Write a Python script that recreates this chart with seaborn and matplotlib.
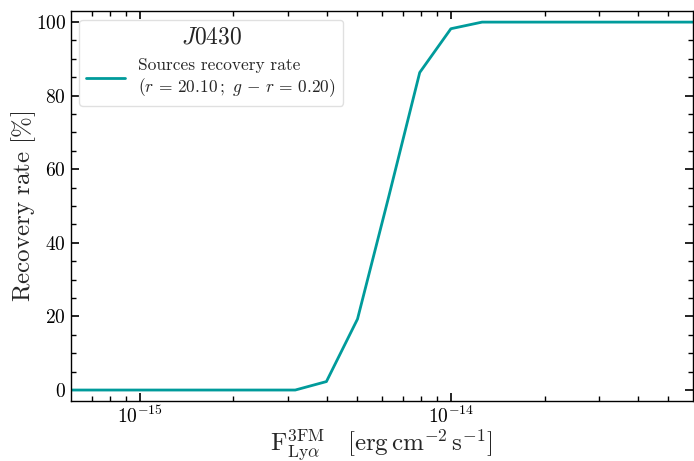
import matplotlib
matplotlib.use("Agg")
import matplotlib.pyplot as plt
import seaborn as sns
import pandas as pd
from matplotlib.ticker import MultipleLocator, FixedLocator, NullFormatter

# Data
flux = [5.01e-16, 6.31e-16, 7.94e-16, 1.00e-15, 1.26e-15, 1.58e-15, 2.00e-15,
        2.51e-15, 3.16e-15, 3.98e-15, 5.01e-15, 6.31e-15, 7.94e-15, 1.00e-14,
        1.26e-14, 1.58e-14, 2.00e-14, 2.51e-14, 3.16e-14, 3.98e-14, 5.01e-14,
        6.31e-14]
rate = [0, 0, 0, 0, 0, 0, 0, 0, 0, 2.3, 19.3, 52.5, 86.3, 98.2,
        100, 100, 100, 100, 100, 100, 100, 100]
xticks_major = [1e-15, 1e-14]
xticks_minor = [7e-16, 8e-16, 9e-16, 2e-15, 3e-15, 4e-15, 5e-15, 6e-15, 7e-15,
                8e-15, 9e-15, 2e-14, 3e-14, 4e-14, 5e-14]
series_label = "Sources recovery rate\n$(r\\,=\\,20.10\\,;\\ g\\,-\\,r\\,=\\,0.20)$"
legend_title = "$J0430$"

sns.set_style("ticks")
plt.rcParams["font.family"] = ["cmr10", "DejaVu Serif"]
plt.rcParams["mathtext.fontset"] = "cm"
plt.rcParams["axes.unicode_minus"] = False
plt.rcParams["axes.formatter.use_mathtext"] = True

df = pd.DataFrame({"flux": flux, "rate": rate})

fig = plt.figure(figsize=(6.94, 4.61), dpi=100)
ax = fig.add_axes([0.102, 0.130, 0.8965, 0.846])

sns.lineplot(data=df, x="flux", y="rate", ax=ax, color="#009B9B", lw=2.0,
             label=series_label)

ax.set_xscale("log")
ax.xaxis.set_major_locator(FixedLocator(xticks_major))
ax.xaxis.set_minor_locator(FixedLocator(xticks_minor))
ax.xaxis.set_minor_formatter(NullFormatter())
ax.set_xlim(6.0e-16, 6.0e-14)
ax.set_ylim(-3, 103)

ax.yaxis.set_major_locator(MultipleLocator(20))
ax.yaxis.set_minor_locator(MultipleLocator(5))

ax.tick_params(which="both", direction="in", top=True, right=True,
               colors="black", labelsize=14)
ax.tick_params(which="major", length=6, width=1.2)
ax.tick_params(which="minor", length=3.5, width=1.0)
for s in ax.spines.values():
    s.set_color("black")
    s.set_linewidth(1.0)

ax.set_xlabel(r"$\mathrm{F}^{\mathrm{3FM}}_{\mathrm{Ly}\alpha}\quad[\mathrm{erg\,cm^{-2}\,s^{-1}}]$",
              fontsize=18, labelpad=0)
ax.set_ylabel(r"$\mathrm{Recovery\ rate\ [\%]}$", fontsize=18, labelpad=-2)

leg = ax.legend(loc="upper left", title=legend_title, fontsize=12.5,
                title_fontsize=17, frameon=True, fancybox=True,
                handlelength=2.2, borderaxespad=0.5)
leg.get_frame().set_edgecolor("#d9d9d9")

fig.savefig("out.png", dpi=100)
